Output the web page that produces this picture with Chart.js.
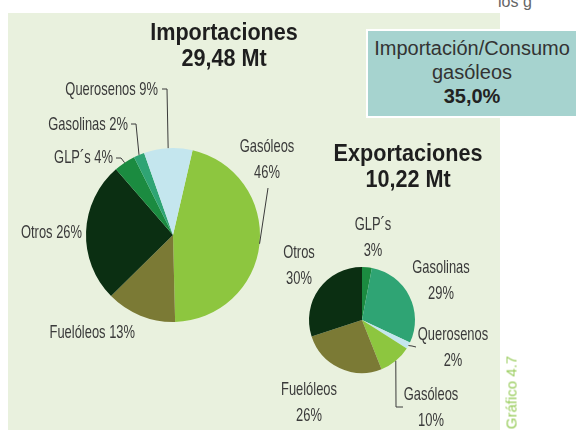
<!DOCTYPE html>
<html>
<head>
<meta charset="utf-8">
<script src="https://cdn.jsdelivr.net/npm/chart.js@4.4.0/dist/chart.umd.min.js"></script>
<style>
  html, body { margin: 0; padding: 0; background: #fff; }
  #stage { position: relative; width: 578px; height: 430px; overflow: hidden; font-family: "Liberation Sans", Arial, sans-serif; }
  #panel { position: absolute; left: 8px; top: 13px; width: 492px; height: 417px; background: #e9f1de; }
  #ratio { position: absolute; left: 366px; top: 29px; width: 212px; height: 89px; background: #a6d3cf; border: 2px solid #fff;
           color: #333; font-size: 20px; line-height: 24px; text-align: center; padding-top: 5px; box-sizing: border-box; }
  #ratio b { color: #222; }
  canvas { position: absolute; left: 0; top: 0; }
  .title { position: absolute; text-align: center; font-weight: bold; color: #1e1e1e; font-size: 24px; line-height: 26px; transform: scaleX(0.9); }
  #topnote { position: absolute; left: 498px; top: -7px; font-size: 16px; color: #666; }
  #fig { position: absolute; left: 471px; top: 384px; width: 80px; text-align: center; font-size: 15px; color: #9acd5e; transform: rotate(-90deg); }
</style>
</head>
<body>
<div id="stage">
  <div id="panel"></div>
  <div id="topnote">los g</div>
  <div id="ratio">Importación/Consumo<br>gasóleos<br><b>35,0%</b></div>
  <canvas id="importChart" width="578" height="430"></canvas>
  <canvas id="exportChart" width="578" height="430"></canvas>
  <div class="title" style="left:124px; top:19px; width:200px;">Importaciones<br>29,48 Mt</div>
  <div class="title" style="left:308px; top:140px; width:200px;">Exportaciones<br>10,22 Mt</div>
  <div id="fig">Gráfico 4.7</div>
</div>
<script>
// data (percentages)
const importLabels = ["Gasóleos", "Fuelóleos", "Otros", "GLP´s", "Gasolinas", "Querosenos"];
const importValues = [46, 13, 26, 4, 2, 9];
const exportLabels = ["GLP´s", "Gasolinas", "Querosenos", "Gasóleos", "Fuelóleos", "Otros"];
const exportValues = [3, 29, 2, 10, 26, 30];

const productColors = {
  "Gasóleos": "#8dc63f",
  "Fuelóleos": "#7b7a35",
  "Otros": "#0b2f12",
  "GLP´s": "#1b8b40",
  "Gasolinas": "#2fa474",
  "Querosenos": "#c4e6ee"
};

// label placement: x,y = anchor of first baseline, oneLine = "Name NN%"
const importLayout = {
  "Gasóleos":   { x: 267, y: 152, align: "center", lead: [[268, 188]] },
  "Fuelóleos":  { x: 135, y: 338, align: "right", oneLine: true },
  "Otros":      { x: 82,  y: 238, align: "right", oneLine: true },
  "GLP´s":      { x: 113, y: 163, align: "right", oneLine: true, lead: [[116, 158], [121, 158]] },
  "Gasolinas":  { x: 128, y: 130, align: "right", oneLine: true, lead: [[131, 124], [136, 124]] },
  "Querosenos": { x: 158, y: 95,  align: "right", oneLine: true, lead: [[162, 89], [167, 89]] }
};
const exportLayout = {
  "GLP´s":      { x: 373, y: 230, align: "center" },
  "Gasolinas":  { x: 441, y: 273, align: "center" },
  "Querosenos": { x: 453, y: 340, align: "center", lead: [[416, 347], [412, 346]] },
  "Gasóleos":   { x: 431, y: 400, align: "center", lead: [[403, 407], [396, 407]] },
  "Fuelóleos":  { x: 309, y: 395, align: "center" },
  "Otros":      { x: 299, y: 258, align: "center" }
};

const labelPlugin = {
  id: "sliceLabels",
  afterDraw(chart) {
    const ctx = chart.ctx;
    const layout = chart.options.plugins.sliceLabels.layout;
    const labels = chart.data.labels;
    const values = chart.data.datasets[0].data;
    const arcs = chart.getDatasetMeta(0).data;
    ctx.save();
    ctx.fillStyle = "#3a3a3a";
    ctx.strokeStyle = "#3a3a3a";
    ctx.lineWidth = 1;
    ctx.font = "19px 'Liberation Sans', Arial, sans-serif";
    ctx.textBaseline = "alphabetic";
    labels.forEach((name, i) => {
      const l = layout[name];
      if (!l) return;
      const lines = l.oneLine ? [name + " " + values[i] + "%"] : [name, values[i] + "%"];
      lines.forEach((t, k) => {
        const sx = 0.68;
        const w = ctx.measureText(t).width * sx;
        let left = l.x;
        if (l.align === "center") left = l.x - w / 2;
        if (l.align === "right") left = l.x - w;
        ctx.save();
        ctx.translate(left, l.y + k * 26);
        ctx.scale(sx, 1);
        ctx.fillText(t, 0, 0);
        ctx.restore();
      });
      if (l.lead) {
        const a = arcs[i].getProps(["x", "y", "startAngle", "endAngle", "outerRadius"], true);
        const mid = (a.startAngle + a.endAngle) / 2;
        const ex = a.x + Math.cos(mid) * a.outerRadius;
        const ey = a.y + Math.sin(mid) * a.outerRadius;
        ctx.beginPath();
        ctx.moveTo(l.lead[0][0], l.lead[0][1]);
        l.lead.slice(1).forEach(p => ctx.lineTo(p[0], p[1]));
        ctx.lineTo(ex, ey);
        ctx.stroke();
      }
    });
    ctx.restore();
  }
};

function makePie(id, labels, values, rotation, padding, layout) {
  return new Chart(document.getElementById(id), {
    type: "pie",
    data: {
      labels: labels,
      datasets: [{
        data: values,
        backgroundColor: labels.map(n => productColors[n]),
        borderWidth: 0
      }]
    },
    options: {
      responsive: false,
      animation: false,
      devicePixelRatio: 1,
      rotation: rotation,
      layout: { padding: padding },
      plugins: {
        legend: { display: false },
        tooltip: { enabled: false },
        sliceLabels: { layout: layout }
      }
    },
    plugins: [labelPlugin]
  });
}

makePie("importChart", importLabels, importValues, 13,
  { left: 86, top: 148, right: 318, bottom: 108 }, importLayout);
makePie("exportChart", exportLabels, exportValues, 0,
  { left: 309, top: 267, right: 163, bottom: 57 }, exportLayout);
</script>
</body>
</html>
